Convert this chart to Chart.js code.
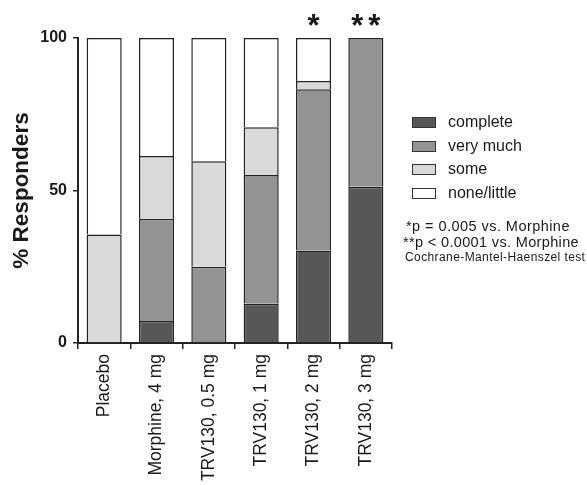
<!DOCTYPE html>
<html>
<head>
<meta charset="utf-8">
<script src="https://cdn.jsdelivr.net/npm/chart.js@4"></script>
<style>
    body { margin: 0; background: #fff; }
    #wrap { position: relative; width: 587px; height: 485px; font-family: "Liberation Sans", Arial, sans-serif; color: #1a1a1a; }
    #chart { position: absolute; left: 0; top: 0; }
    .leg-row { position: absolute; left: 412px; height: 20px; display: flex; align-items: center; font-size: 16px; }
    .leg-box { width: 22px; height: 9px; border: 1.5px solid #333; margin-right: 12px; }
    .note { position: absolute; left: 406px; white-space: nowrap; }
</style>
</head>
<body>
<div id="wrap">
    <canvas id="chart" width="587" height="485"></canvas>
    <div id="legend"></div>
    <div class="note" style="top:218px; font-size:14.5px; letter-spacing:0.45px;">*p = 0.005 vs. Morphine</div>
    <div class="note" style="top:234px; font-size:14.5px; letter-spacing:0.35px; left:403px;">**p &lt; 0.0001 vs. Morphine</div>
    <div class="note" style="top:250px; font-size:12px; letter-spacing:0.4px; left:405px;">Cochrane-Mantel-Haenszel test</div>
</div>
<script>
document.addEventListener("DOMContentLoaded", function () {
    "use strict";

    // data
    const groups = ["Placebo", "Morphine, 4 mg", "TRV130, 0.5 mg", "TRV130, 1 mg", "TRV130, 2 mg", "TRV130, 3 mg"];
    const complete = [0, 7.2, 0, 12.9, 30.3, 51.2];
    const veryMuch = [0, 33.5, 25.0, 42.2, 52.9, 48.8];
    const some = [35.6, 20.6, 34.6, 15.6, 2.7, 0];
    const noneLittle = [64.4, 38.7, 40.4, 29.3, 14.1, 0];
    const sigMarks = ["", "", "", "", "*", "**"];
    const yTicks = [0, 50, 100];

    const seriesNames = ["complete", "very much", "some", "none/little"];
    const seriesColors = ["#575757", "#939393", "#d9d9d9", "#ffffff"];
    const seriesData = [complete, veryMuch, some, noneLittle];

    Chart.defaults.font.family = "'Liberation Sans', Arial, sans-serif";
    Chart.defaults.color = "#1a1a1a";

    // asterisks above the bars
    const sigPlugin = {
        id: "sigMarks",
        afterDraw(chart) {
            const ctx = chart.ctx;
            const x = chart.scales.x;
            ctx.save();
            ctx.fillStyle = "#1a1a1a";
            ctx.font = "bold 31px 'Liberation Sans', Arial, sans-serif";
            ctx.textAlign = "center";
            ctx.textBaseline = "alphabetic";
            sigMarks.forEach(function (m, i) {
                if (!m) return;
                const cx = x.getPixelForValue(i);
                const gap = 17;
                const start = cx - gap * (m.length - 1) / 2;
                for (let k = 0; k < m.length; k++) {
                    ctx.fillText(m[k], start + k * gap, 36);
                }
            });
            ctx.restore();
        }
    };

    // top border only between segments so joins stay one line thick
    const datasets = seriesNames.map(function (name, i) {
        return {
            label: name,
            data: seriesData[i],
            backgroundColor: seriesColors[i],
            borderColor: "#222",
            borderWidth: { top: 1.5, left: 1.5, right: 1.5, bottom: 0 },
            borderSkipped: false,
            barPercentage: 0.67,
            categoryPercentage: 1.0
        };
    });

    new Chart(document.getElementById("chart").getContext("2d"), {
        type: "bar",
        data: { labels: groups, datasets: datasets },
        options: {
            responsive: false,
            animation: false,
            layout: { padding: { top: 38, right: 195, left: 0, bottom: 0 } },
            plugins: { legend: { display: false }, tooltip: { enabled: false } },
            scales: {
                x: {
                    stacked: true,
                    afterFit: function (s) { s.height = 142; },
                    grid: { display: true, drawOnChartArea: false, drawTicks: true, tickLength: 6, color: "#222", lineWidth: 1.5 },
                    border: { display: true, color: "#222", width: 2 },
                    ticks: { autoSkip: false, minRotation: 90, maxRotation: 90, padding: 5, font: { size: 17.5 }, color: "#1a1a1a" }
                },
                y: {
                    stacked: true,
                    min: 0,
                    max: 100,
                    afterFit: function (s) { s.width = 78; },
                    afterBuildTicks: function (s) { s.ticks = yTicks.map(function (v) { return { value: v }; }); },
                    grid: { display: true, drawOnChartArea: false, drawTicks: true, tickLength: 5, color: "#222", lineWidth: 1.5 },
                    border: { display: true, color: "#222", width: 2 },
                    ticks: { padding: 6, font: { size: 16, weight: "bold" }, color: "#1a1a1a" },
                    title: { display: true, text: "% Responders", font: { size: 22.5, weight: "bold" }, padding: { top: 8, bottom: 0 }, color: "#1a1a1a" }
                }
            }
        },
        plugins: [sigPlugin]
    });

    // legend on the right
    const legend = document.getElementById("legend");
    const rowTops = [112, 136, 159, 183];
    seriesNames.forEach(function (name, i) {
        let row = document.createElement("div");
        row.className = "leg-row";
        row.style.top = rowTops[i] + "px";
        let box = document.createElement("span");
        box.className = "leg-box";
        box.style.background = seriesColors[i];
        row.appendChild(box);
        row.appendChild(document.createTextNode(name));
        legend.appendChild(row);
    });
});
</script>
</body>
</html>
